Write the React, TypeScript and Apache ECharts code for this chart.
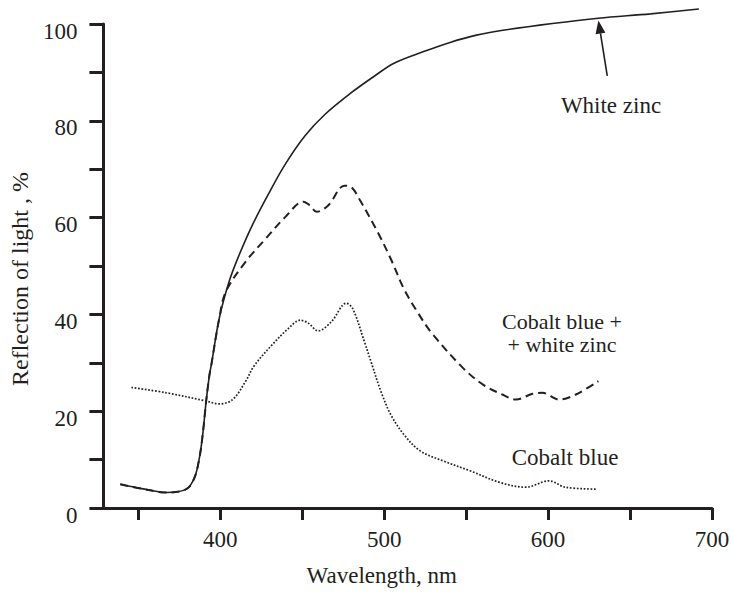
import React, { useEffect, useRef } from "react";
import * as echarts from "echarts";

const whiteZinc: [number, number][] = [
  [339, 4.9], [352, 4.0], [367, 3.2], [379.3, 3.9], [384.3, 6.3], [387.3, 10.4],
  [389.3, 15.2], [391.4, 22.1], [393.4, 27.5], [394.4, 29.3], [399.4, 39.2],
  [405.4, 46.8], [411.3, 52.1], [419.5, 58.4], [429.6, 65.0], [439.6, 71.0],
  [451.7, 76.9], [463.8, 81.3], [479.9, 85.8], [493.9, 89.2], [506, 91.9],
  [524.1, 94.3], [540.2, 96.2], [556.3, 97.7], [572.4, 98.7], [602.6, 100.1],
  [630.7, 101.2], [662.5, 102.1], [692, 103.1],
];

const cobaltWhite: [number, number][] = [
  [339, 4.9], [352, 4.0], [367, 3.2], [379.3, 3.9], [384.3, 6.3], [387.3, 10.4],
  [389.3, 15.2], [391.4, 22.1], [393.4, 27.5], [394.4, 29.3], [399.4, 39.2],
  [403.4, 44.7], [415.5, 50.9], [427.6, 55.6], [439.6, 60.1], [450.7, 63.3],
  [454.7, 62.5], [458.8, 61.2], [465.8, 62.5], [475.8, 66.6], [479.9, 66.3],
  [485.9, 63.2], [495.9, 57.1], [504, 51.5], [512, 45.3], [520.1, 40.6],
  [529.1, 36.1], [548.2, 28.9], [560.3, 25.5], [572.4, 23.4], [580.4, 22.4],
  [590.5, 23.6], [596.5, 23.8], [606.6, 22.4], [616.6, 23.4], [630.7, 26.2],
];

const cobalt: [number, number][] = [
  [345.8, 24.9], [367.2, 23.8], [391.4, 22.1], [399.4, 21.5], [407.5, 22.4],
  [415.5, 26.2], [420.5, 29.3], [431.6, 33.7], [441.6, 37.1], [448.7, 38.8],
  [453.7, 38.2], [459.7, 36.6], [467.8, 38.5], [476.9, 42.3], [480.8, 41.2],
  [487.9, 34.4], [491.9, 30.3], [498, 24.1], [504, 19.3], [512, 15.2],
  [522, 11.8], [536.2, 9.7], [552.3, 7.7], [570.4, 5.3], [586.4, 4.3],
  [600.5, 5.6], [610.5, 4.3], [629.7, 3.9],
];

const xTicks = [350, 400, 450, 500, 550, 600, 650, 700];
const xLabels = [400, 500, 600, 700];
const yTicks = [0, 10, 20, 30, 40, 50, 60, 70, 80, 90, 100];
const yLabels = [0, 20, 40, 60, 80, 100];

const arrowTail: [number, number] = [636.1, 89.3];
const arrowHead: [number, number] = [630.7, 100.7];

const INK = "#231f20";
const FONT = "'Liberation Serif', 'Times New Roman', serif";

export default function App() {
  const ref = useRef<HTMLDivElement>(null);
  useEffect(() => {
    if (!ref.current) return;
    const chart = echarts.init(ref.current, undefined, { renderer: "svg" });
    const lineBase = { type: "line", showSymbol: false, smooth: 0.35, clip: false };
    chart.setOption({
      animation: false,
      backgroundColor: "#fff",
      grid: { left: 86, right: 21, top: 24, bottom: 81 },
      xAxis: {
        type: "value",
        min: 322.6,
        max: 700,
        name: "Wavelength, nm",
        nameLocation: "middle",
        nameGap: 56,
        nameTextStyle: { fontFamily: FONT, fontSize: 23, color: INK, padding: [0, 42, 0, 0] },
        axisLine: { lineStyle: { color: INK, width: 3 } },
        axisTick: { customValues: xTicks, length: 12, lineStyle: { color: INK, width: 3 } },
        axisLabel: { customValues: xLabels, margin: 20, fontFamily: FONT, fontSize: 23, color: INK },
        splitLine: { show: false },
      },
      yAxis: {
        type: "value",
        min: 0,
        max: 100,
        interval: 10,
        offset: -10,
        name: "Reflection of light , %",
        nameLocation: "middle",
        nameGap: 70,
        nameTextStyle: { fontFamily: FONT, fontSize: 24, color: INK, padding: [0, 26, 0, 0] },
        axisLine: { show: true, lineStyle: { color: INK, width: 3 } },
        axisTick: { show: true, customValues: yTicks, length: 14, lineStyle: { color: INK, width: 3 } },
        axisLabel: {
          customValues: yLabels,
          margin: 26,
          verticalAlign: "top",
          lineHeight: 14,
          fontFamily: FONT,
          fontSize: 23,
          color: INK,
        },
        splitLine: { show: false },
      },
      series: [
        { ...lineBase, name: "White zinc", data: whiteZinc, lineStyle: { color: INK, width: 1.6 } },
        {
          ...lineBase,
          name: "Cobalt blue + white zinc",
          data: cobaltWhite,
          lineStyle: { color: INK, width: 2, type: [8, 5] },
        },
        {
          ...lineBase,
          name: "Cobalt blue",
          data: cobalt,
          lineStyle: { color: INK, width: 1.7, type: [1.7, 1.7] },
        },
      ],
    });

    const t = chart.convertToPixel({ xAxisIndex: 0, yAxisIndex: 0 }, arrowTail) as number[];
    const h = chart.convertToPixel({ xAxisIndex: 0, yAxisIndex: 0 }, arrowHead) as number[];
    const dx = h[0] - t[0];
    const dy = h[1] - t[1];
    const len = Math.hypot(dx, dy) || 1;
    const ux = dx / len;
    const uy = dy / len;
    const headLen = 13;
    const halfW = 5;
    const bx = h[0] - ux * headLen;
    const by = h[1] - uy * headLen;
    const nx = -uy;
    const ny = ux;

    const textStyle = (text: string) => ({
      text,
      font: `23px ${FONT}`,
      fill: INK,
      align: "center",
      verticalAlign: "middle",
    });

    chart.setOption({
      graphic: [
        {
          type: "line",
          shape: { x1: t[0], y1: t[1], x2: bx, y2: by },
          style: { stroke: INK, lineWidth: 1.6 },
        },
        {
          type: "polygon",
          shape: {
            points: [
              [h[0], h[1]],
              [bx + nx * halfW, by + ny * halfW],
              [bx - nx * halfW, by - ny * halfW],
            ],
          },
          style: { fill: INK },
        },
        { type: "text", x: 611, y: 105, style: textStyle("White zinc") },
        { type: "text", x: 562, y: 321, style: { ...textStyle("Cobalt blue +"), font: `22px ${FONT}` } },
        { type: "text", x: 562, y: 344, style: { ...textStyle("+ white zinc"), font: `22px ${FONT}` } },
        { type: "text", x: 565, y: 457, style: textStyle("Cobalt blue") },
      ],
    });
    return () => chart.dispose();
  }, []);
  return <div ref={ref} style={{ width: 733, height: 592, position: "absolute", left: 0, top: 0 }} />;
}
